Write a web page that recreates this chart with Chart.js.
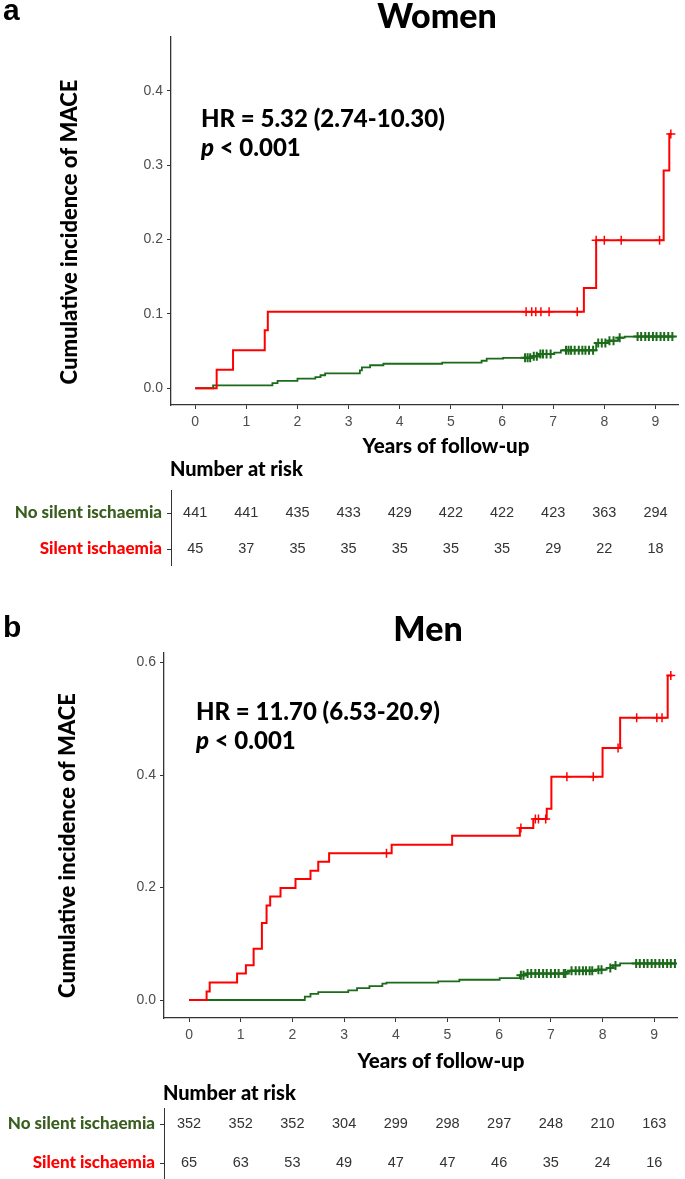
<!DOCTYPE html>
<html>
<head>
<meta charset="utf-8">
<script src="https://cdn.jsdelivr.net/npm/chart.js@4.4.1/dist/chart.umd.min.js"></script>
<style>
  body { margin: 0; background: #fff; }
  #page { position: relative; width: 685px; height: 1179px; overflow: hidden; }
  canvas { position: absolute; left: 0; }
</style>
</head>
<body>
<div id="page">
  <canvas id="women" width="685" height="590" style="top:0"></canvas>
  <canvas id="men" width="685" height="589" style="top:590px"></canvas>
</div>
<script>
// Years shown on the x axis and in the risk tables
const years = [0, 1, 2, 3, 4, 5, 6, 7, 8, 9];

// Women - silent ischaemia (red)
const wSiTime = [0, 0.42, 0.74, 1.36, 1.42, 7.60, 7.84, 9.16, 9.27, 9.32];
const wSiInc = [0, 0.025, 0.051, 0.078, 0.103, 0.135, 0.199, 0.293, 0.342, 0.342];
const wSiCens = [6.47, 6.58, 6.66, 6.76, 6.92, 7.47, 7.84, 8.0, 8.33, 9.08, 9.30];

// Women - no silent ischaemia (green)
const wNoTime = [0, 0.35, 1.51, 1.61, 2.0, 2.35, 2.45, 2.54, 3.22, 3.26, 3.42, 3.68, 4.83, 5.6, 5.7, 6.02, 6.57, 6.73, 7.02, 7.15, 7.84, 8.08, 8.27, 8.4, 9.37];
const wNoInc = [0, 0.004, 0.007, 0.010, 0.013, 0.015, 0.0175, 0.020, 0.024, 0.028, 0.031, 0.033, 0.0345, 0.037, 0.040, 0.041, 0.043, 0.046, 0.048, 0.051, 0.061, 0.064, 0.068, 0.0695, 0.0695];
const wNoCens = [6.45, 6.5, 6.55, 6.62, 6.68, 6.75, 6.8, 6.87, 6.95, 7.25, 7.3, 7.35, 7.42, 7.5, 7.57, 7.63, 7.7, 7.78, 7.88, 7.95, 8.02, 8.1, 8.18, 8.3, 8.65, 8.72, 8.8, 8.87, 8.95, 9.02, 9.1, 9.17, 9.25, 9.33];

// Men - silent ischaemia (red)
const mSiTime = [0, 0.34, 0.40, 0.93, 1.10, 1.25, 1.41, 1.50, 1.57, 1.77, 2.06, 2.35, 2.50, 2.71, 3.92, 5.09, 6.40, 6.66, 6.92, 7.01, 8.0, 8.34, 9.26, 9.35];
const mSiInc = [0, 0.015, 0.031, 0.047, 0.062, 0.091, 0.137, 0.168, 0.184, 0.199, 0.215, 0.230, 0.246, 0.261, 0.276, 0.292, 0.306, 0.322, 0.340, 0.397, 0.448, 0.502, 0.577, 0.577];
const mSiCens = [3.82, 6.42, 6.70, 6.76, 6.90, 7.31, 7.82, 8.3, 8.66, 9.05, 9.15, 9.32];

// Men - no silent ischaemia (green)
const mNoTime = [0, 2.24, 2.35, 2.50, 3.08, 3.25, 3.49, 3.74, 3.82, 4.82, 5.23, 6.01, 6.40, 6.53, 7.30, 7.36, 7.88, 8.08, 8.20, 8.34, 9.42];
const mNoInc = [0, 0.006, 0.011, 0.014, 0.017, 0.021, 0.0245, 0.029, 0.031, 0.033, 0.036, 0.039, 0.044, 0.047, 0.050, 0.052, 0.054, 0.057, 0.0615, 0.065, 0.065];
const mNoCens = [6.42, 6.47, 6.55, 6.62, 6.7, 6.77, 6.85, 6.92, 7.0, 7.08, 7.15, 7.25, 7.28, 7.4, 7.48, 7.55, 7.62, 7.68, 7.75, 7.8, 7.92, 7.98, 8.15, 8.25, 8.65, 8.72, 8.8, 8.87, 8.95, 9.02, 9.1, 9.17, 9.25, 9.32, 9.4];

// Number at risk
const wRiskNo = [441, 441, 435, 433, 429, 422, 422, 423, 363, 294];
const wRiskSi = [45, 37, 35, 35, 35, 35, 35, 29, 22, 18];
const mRiskNo = [352, 352, 352, 304, 299, 298, 297, 248, 210, 163];
const mRiskSi = [65, 63, 53, 49, 47, 47, 46, 35, 24, 16];

const womenTicks = [0, 0.1, 0.2, 0.3, 0.4];
const menTicks = [0, 0.2, 0.4, 0.6];

const RED = '#ff0000';
const GREEN = '#1b6b1b';
const LABEL_GREEN = '#3a5e1f';
const BOLD = 'Lato, "Open Sans", sans-serif';
const PLAIN = '"Liberation Sans", Arial, sans-serif';

// value of a step curve at time t
function stepAt(times, inc, t) {
    let v = 0;
    for (let i = 0; i < times.length; i++) {
        if (times[i] <= t) v = inc[i];
    }
    return v;
}

function curve(times, inc, color, width) {
    return {
        type: 'line',
        data: times.map((t, i) => ({ x: t, y: inc[i] })),
        borderColor: color,
        borderWidth: width,
        stepped: true,
        pointRadius: 0,
        fill: false
    };
}

function censor(cens, times, inc, color, width) {
    return {
        type: 'scatter',
        data: cens.map(t => ({ x: t, y: stepAt(times, inc, t) })),
        pointStyle: 'cross',
        pointRadius: 4.5,
        borderColor: color,
        backgroundColor: color,
        borderWidth: width
    };
}

// Draws panel letter, title, HR text, axis titles and the risk table
const panelText = {
    id: 'panelText',
    afterDraw(chart, args, o) {
        const ctx = chart.ctx;
        const xs = chart.scales.x;
        const area = chart.chartArea;
        ctx.save();
        ctx.fillStyle = '#000';
        ctx.textBaseline = 'alphabetic';

        ctx.font = 'bold 30px ' + PLAIN;
        ctx.textAlign = 'left';
        ctx.fillText(o.letter, 3, o.letterY);

        ctx.font = '900 34px ' + BOLD;
        ctx.textAlign = 'center';
        ctx.fillText(o.title, o.titleX, o.titleY);

        ctx.font = '900 24px ' + BOLD;
        ctx.textAlign = 'left';
        ctx.fillText(o.hr, o.hrX, o.hrY);
        ctx.font = 'italic 900 24px ' + BOLD;
        ctx.fillText('p', o.hrX, o.hrY + 29);
        const pw = ctx.measureText('p').width;
        ctx.font = '900 24px ' + BOLD;
        ctx.fillText(' < 0.001', o.hrX + pw, o.hrY + 29);

        // y axis title
        ctx.save();
        ctx.translate(o.yTitleX, (area.top + area.bottom) / 2 + o.yTitleShift);
        ctx.rotate(-Math.PI / 2);
        ctx.font = '900 22px ' + BOLD;
        ctx.textAlign = 'center';
        ctx.textBaseline = 'middle';
        ctx.fillText('Cumulative incidence of MACE', 0, 0);
        ctx.restore();

        ctx.font = '900 20.5px ' + BOLD;
        ctx.textAlign = 'center';
        ctx.fillText('Years of follow-up', o.xTitleX, o.xTitleY);

        // risk table
        ctx.textAlign = 'left';
        ctx.font = '900 20px ' + BOLD;
        ctx.fillText('Number at risk', area.left - 1, o.riskTitleY);

        ctx.strokeStyle = '#333';
        ctx.lineWidth = 1;
        ctx.beginPath();
        ctx.moveTo(area.left + 0.5, o.tableTop);
        ctx.lineTo(area.left + 0.5, o.tableBottom);
        o.rowY.forEach(y => {
            ctx.moveTo(area.left - 4, y + 0.5);
            ctx.lineTo(area.left, y + 0.5);
        });
        ctx.stroke();

        ctx.textBaseline = 'middle';
        ctx.textAlign = 'right';
        ctx.font = '900 17px ' + BOLD;
        ctx.fillStyle = LABEL_GREEN;
        ctx.fillText('No silent ischaemia', area.left - 9, o.rowY[0]);
        ctx.fillStyle = RED;
        ctx.fillText('Silent ischaemia', area.left - 9, o.rowY[1]);

        ctx.textAlign = 'center';
        ctx.font = '14.5px ' + PLAIN;
        ctx.fillStyle = '#333';
        years.forEach((yr, i) => {
            const px = xs.getPixelForValue(yr);
            ctx.fillText(String(o.riskNo[i]), px, o.rowY[0]);
            ctx.fillText(String(o.riskSi[i]), px, o.rowY[1]);
        });
        ctx.restore();
    }
};

function makePanel(id, cfg) {
    const canvas = document.getElementById(id);
    const H = canvas.height;
    return new Chart(canvas.getContext('2d'), {
        type: 'line',
        data: {
            datasets: [
                censor(cfg.siCens, cfg.siTime, cfg.siInc, RED, 1.5),
                curve(cfg.siTime, cfg.siInc, RED, 2),
                censor(cfg.noCens, cfg.noTime, cfg.noInc, GREEN, 2),
                curve(cfg.noTime, cfg.noInc, GREEN, 1.8)
            ]
        },
        options: {
            responsive: false,
            animation: false,
            layout: { padding: { top: cfg.top, right: 685 - cfg.right, bottom: 0, left: 0 } },
            plugins: {
                legend: { display: false },
                tooltip: { enabled: false },
                panelText: cfg.text
            },
            scales: {
                x: {
                    type: 'linear',
                    min: cfg.xMin,
                    max: cfg.xMax,
                    afterBuildTicks: s => { s.ticks = years.map(v => ({ value: v })); },
                    afterFit: s => { s.height = H - cfg.bottom; },
                    grid: { drawOnChartArea: false, drawTicks: true, tickLength: 4, color: '#333' },
                    border: { display: true, color: '#333', width: 1.3 },
                    ticks: { color: '#4d4d4d', font: { family: PLAIN, size: 14 }, padding: 5, maxRotation: 0 }
                },
                y: {
                    type: 'linear',
                    min: cfg.yMin,
                    max: cfg.yMax,
                    afterBuildTicks: s => { s.ticks = cfg.yTicks.map(v => ({ value: v })); },
                    afterFit: s => { s.width = cfg.left; },
                    grid: { drawOnChartArea: false, drawTicks: true, tickLength: 4, color: '#333' },
                    border: { display: true, color: '#333', width: 1.3 },
                    ticks: {
                        color: '#4d4d4d',
                        font: { family: PLAIN, size: 14 },
                        padding: 4,
                        callback: v => v.toFixed(1)
                    }
                }
            }
        },
        plugins: [panelText]
    });
}

makePanel('women', {
    siTime: wSiTime, siInc: wSiInc, siCens: wSiCens,
    noTime: wNoTime, noInc: wNoInc, noCens: wNoCens,
    left: 171, right: 685, top: 37, bottom: 405,
    xMin: -0.473, xMax: 9.45, yMin: -0.0225, yMax: 0.4725, yTicks: womenTicks,
    text: {
        letter: 'a', letterY: 20,
        title: 'Women', titleX: 437, titleY: 28,
        hr: 'HR = 5.32 (2.74-10.30)', hrX: 201, hrY: 127,
        yTitleX: 70, yTitleShift: 11,
        xTitleX: 446, xTitleY: 453,
        riskTitleY: 476, tableTop: 490, tableBottom: 566, rowY: [513, 549],
        riskNo: wRiskNo, riskSi: wRiskSi
    }
});

makePanel('men', {
    siTime: mSiTime, siInc: mSiInc, siCens: mSiCens,
    noTime: mNoTime, noInc: mNoInc, noCens: mNoCens,
    left: 164, right: 677, top: 63, bottom: 428,
    xMin: -0.484, xMax: 9.44, yMin: -0.032, yMax: 0.617, yTicks: menTicks,
    text: {
        letter: 'b', letterY: 47,
        title: 'Men', titleX: 428, titleY: 51,
        hr: 'HR = 11.70 (6.53-20.9)', hrX: 196, hrY: 130,
        yTitleX: 68, yTitleShift: 10,
        xTitleX: 441, xTitleY: 478,
        riskTitleY: 510, tableTop: 518, tableBottom: 589, rowY: [534, 573],
        riskNo: mRiskNo, riskSi: mRiskSi
    }
});
</script>
</body>
</html>
